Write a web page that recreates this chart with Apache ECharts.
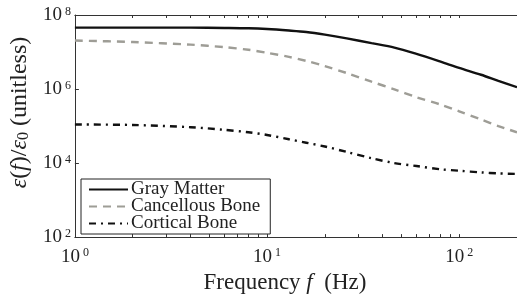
<!DOCTYPE html>
<html>
<head>
<meta charset="utf-8">
<script src="https://cdn.jsdelivr.net/npm/echarts@6/dist/echarts.min.js"></script>
<style>
  html, body { margin: 0; padding: 0; background: #fff; }
  #chart { width: 517px; height: 299px; }
</style>
</head>
<body>
<div id="chart"></div>
<script>
// frequency samples (Hz)
var freqs = [1, 2, 4, 6, 8, 10, 13, 16, 20, 26, 35, 46, 60, 80, 100, 130, 160, 200];
// relative permittivity
var grayMatter = [4.57e7, 4.57e7, 4.57e7, 4.47e7, 4.37e7, 4.17e7, 3.80e7, 3.47e7, 2.95e7, 2.34e7, 1.74e7, 1.32e7, 8.9e6, 5.5e6, 3.72e6, 2.43e6, 1.66e6, 1.12e6];
var cancellousBone = [2.04e7, 1.86e7, 1.58e7, 1.35e7, 1.15e7, 9.5e6, 7.4e6, 5.75e6, 4.17e6, 2.7e6, 1.58e6, 9.8e5, 6.0e5, 3.8e5, 2.5e5, 1.5e5, 1.0e5, 6.8e4];
var corticalBone = [1.1e5, 1.07e5, 9.3e4, 7.9e4, 6.8e4, 5.75e4, 4.4e4, 3.55e4, 2.8e4, 2.0e4, 1.35e4, 1.0e4, 8.3e3, 6.8e3, 6.2e3, 5.6e3, 5.25e3, 5.1e3];
var seriesNames = ['Gray Matter', 'Cancellous Bone', 'Cortical Bone'];

// ticks
var xLabelValues = [1, 10, 100];
var xTickValues = [1, 2, 3, 4, 5, 6, 7, 8, 9, 10, 20, 30, 40, 50, 60, 70, 80, 90, 100, 200];
var yTickValues = [1e2, 1e4, 1e6, 1e8];

var serif = 'Liberation Serif';
var axisColor = '#333';

function pairs(vals) {
  return freqs.map(function (f, i) { return [f, vals[i]]; });
}

// 10 with a raised exponent
function powLabel(v) {
  var e = Math.round(Math.log10(v));
  return '{b|10}{s|' + e + '}';
}

var labelRich = {
  b: { fontFamily: serif, fontSize: 19, color: '#222', lineHeight: 19, verticalAlign: 'bottom' },
  s: { fontFamily: serif, fontSize: 12, color: '#222', lineHeight: 19, verticalAlign: 'top', padding: [0, 0, 0, 3] }
};

var myChart = echarts.init(document.getElementById('chart'), null, {renderer: 'canvas'});

var option = {
  backgroundColor: '#fff',
  animation: false,
  grid: {
    left: 74,
    top: 15,
    bottom: 59,
    right: -7
  },
  legend: {
    orient: 'vertical',
    left: 81,
    top: 179,
    data: seriesNames,
    backgroundColor: '#fff',
    borderColor: '#222',
    borderWidth: 1,
    borderRadius: 0,
    padding: [1, 10, 1, 7],
    itemGap: -2,
    itemWidth: 39,
    itemHeight: 10,
    itemStyle: { opacity: 0 },
    textStyle: {
      fontFamily: serif,
      fontSize: 19,
      color: '#222',
      padding: [0, 0, 0, -2]
    }
  },
  xAxis: [
    {
      type: 'log',
      logBase: 10,
      min: 1,
      max: 200,
      position: 'bottom',
      name: '{t|Frequency }{i|f}{t|  (Hz)}',
      nameLocation: 'middle',
      nameGap: 27,
      nameTextStyle: {
        padding: [0, 22, 0, 0],
        rich: {
          t: { fontFamily: serif, fontSize: 23, color: '#222' },
          i: { fontFamily: serif, fontSize: 23, fontStyle: 'italic', color: '#222' }
        }
      },
      axisLine: { show: true, lineStyle: { color: axisColor, width: 1 } },
      axisTick: { show: true, inside: true, length: 3, customValues: xTickValues, lineStyle: { color: axisColor } },
      axisLabel: { show: true, customValues: xLabelValues, margin: 10, formatter: powLabel, rich: labelRich },
      splitLine: { show: false },
      minorTick: { show: false }
    },
    {
      type: 'log',
      logBase: 10,
      min: 1,
      max: 200,
      position: 'top',
      axisLine: { show: true, lineStyle: { color: axisColor, width: 1 } },
      axisTick: { show: true, inside: true, length: 3, customValues: xTickValues, lineStyle: { color: axisColor } },
      axisLabel: { show: false },
      splitLine: { show: false }
    }
  ],
  yAxis: {
    type: 'log',
    logBase: 10,
    min: 1e2,
    max: 1e8,
    name: '{e|ε}{n|(}{i|f}{n|)/}{e|ε}{sub|0}{n| (unitless)}',
    nameLocation: 'middle',
    nameRotate: 90,
    nameGap: 37,
    nameTextStyle: {
      padding: [0, 0, 0, 27],
      rich: {
        e: { fontFamily: serif, fontSize: 24, fontStyle: 'italic', color: '#222', lineHeight: 26, verticalAlign: 'bottom' },
        i: { fontFamily: serif, fontSize: 24, fontStyle: 'italic', color: '#222', lineHeight: 26, verticalAlign: 'bottom' },
        n: { fontFamily: serif, fontSize: 24, color: '#222', lineHeight: 26, verticalAlign: 'bottom' },
        sub: { fontFamily: serif, fontSize: 16, color: '#222', lineHeight: 21, verticalAlign: 'bottom' }
      }
    },
    axisLine: { show: true, lineStyle: { color: axisColor, width: 1 } },
    axisTick: { show: true, inside: true, length: 4, customValues: yTickValues, lineStyle: { color: axisColor } },
    axisLabel: { show: true, customValues: yTickValues, margin: 4, formatter: powLabel, rich: labelRich },
    splitLine: { show: false }
  },
  series: [
    {
      name: seriesNames[0],
      type: 'line',
      data: pairs(grayMatter),
      smooth: 0.3,
      symbol: 'none',
      lineStyle: { color: '#111', width: 2.4, type: 'solid' },
      itemStyle: { color: '#111' }
    },
    {
      name: seriesNames[1],
      type: 'line',
      data: pairs(cancellousBone),
      smooth: 0.3,
      symbol: 'none',
      lineStyle: { color: '#9e9d96', width: 2.4, type: [8, 6] },
      itemStyle: { color: '#9e9d96' }
    },
    {
      name: seriesNames[2],
      type: 'line',
      data: pairs(corticalBone),
      smooth: 0.3,
      symbol: 'none',
      lineStyle: { color: '#111', width: 2.4, type: [7, 5, 2, 5] },
      itemStyle: { color: '#111' }
    }
  ]
};

myChart.setOption(option);
</script>
</body>
</html>
